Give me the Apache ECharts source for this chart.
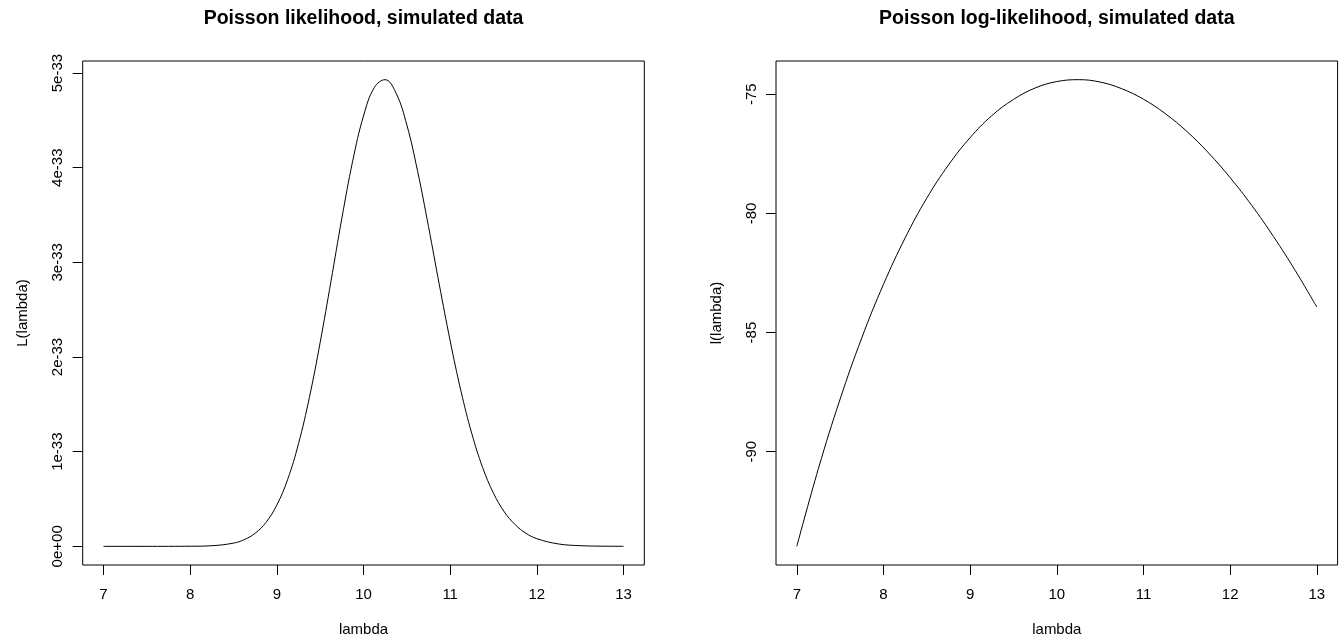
<!DOCTYPE html>
<html>
<head>
<meta charset="utf-8">
<title>Poisson likelihood</title>
<script src="https://cdn.jsdelivr.net/npm/echarts@6/dist/echarts.min.js"></script>
<style>
  html, body { margin: 0; padding: 0; background: #fff; }
  #chart { width: 1340px; height: 644px; }
</style>
</head>
<body>
<div id="chart"></div>
<script>
// lambda grid for the likelihood curve (denser around the peak)
const lambdaL = [7, 7.25, 7.5, 7.75, 8, 8.25, 8.5, 8.625, 8.75, 8.875, 9, 9.125, 9.25, 9.375, 9.5,
  9.625, 9.75, 9.875, 10, 10.125, 10.25, 10.375, 10.5, 10.625, 10.75, 10.875, 11, 11.125, 11.25,
  11.375, 11.5, 11.625, 11.75, 11.875, 12, 12.25, 12.5, 12.75, 13]
// L(lambda) in units of 1e-33
const likelihoodE33 = [0, 0, 0, 0.0001, 0.0009, 0.0065, 0.034, 0.071, 0.138, 0.253, 0.436, 0.707,
  1.084, 1.57, 2.154, 2.802, 3.464, 4.069, 4.546, 4.847, 4.93, 4.789, 4.452, 3.96, 3.378, 2.763,
  2.171, 1.639, 1.19, 0.832, 0.561, 0.364, 0.229, 0.138, 0.081, 0.025, 0.007, 0.0017, 0.0004]

// lambda grid for the log-likelihood curve
const lambdaLL = [7, 7.25, 7.5, 7.75, 8, 8.25, 8.5, 8.75, 9, 9.25, 9.5, 9.75, 10, 10.25, 10.5,
  10.75, 11, 11.25, 11.5, 11.75, 12, 12.25, 12.5, 12.75, 13]
const logLik = [-93.97, -90.7, -87.79, -85.22, -82.98, -81.03, -79.36, -77.97, -76.82, -75.9,
  -75.22, -74.74, -74.47, -74.39, -74.49, -74.77, -75.21, -75.81, -76.56, -77.46, -78.5,
  -79.67, -80.97, -82.39, -83.93]

// tick values and labels
const xTicks = [7, 8, 9, 10, 11, 12, 13]
const yTicksL = [0, 1, 2, 3, 4, 5]
const yTickLabelsL = ['0e+00', '1e-33', '2e-33', '3e-33', '4e-33', '5e-33']
const yTicksLL = [-90, -85, -80, -75]

const titles = ['Poisson likelihood, simulated data', 'Poisson log-likelihood, simulated data']
const yNames = ['L(lambda)', 'l(lambda)']

// R style axis range: data range widened by 4% on each side
function rRange(vals) {
  const lo = Math.min(...vals), hi = Math.max(...vals)
  const pad = (hi - lo) * 0.04
  return [lo - pad, hi + pad]
}

const FONT = 'Liberation Sans, Arial, Helvetica, sans-serif'
const boxW = 561.6, boxH = 504, boxTop = 61
const lefts = [82.7, 776]

const xr = rRange(xTicks)
const yrL = rRange([0].concat(likelihoodE33))
const yrLL = rRange(logLik)

function xAxisOf(i) {
  return {
    type: 'value', gridIndex: i, min: xr[0], max: xr[1],
    axisLine: { show: false, onZero: false },
    splitLine: { show: false },
    axisTick: { show: true, customValues: xTicks, length: 10, lineStyle: { color: '#000' } },
    axisLabel: { customValues: xTicks, margin: 22, color: '#000', fontSize: 15, fontFamily: FONT },
    name: 'lambda', nameLocation: 'middle', nameGap: 57,
    nameTextStyle: { color: '#000', fontSize: 15, fontFamily: FONT }
  }
}

function yAxisOf(i, range, ticks, fmt) {
  return {
    type: 'value', gridIndex: i, min: range[0], max: range[1],
    axisLine: { show: false, onZero: false },
    splitLine: { show: false },
    axisTick: { show: true, customValues: ticks, length: 10, lineStyle: { color: '#000' } },
    axisLabel: {
      customValues: ticks, rotate: 90, margin: 17, color: '#000',
      fontSize: 15, fontFamily: FONT, formatter: fmt
    },
    name: yNames[i], nameLocation: 'middle', nameGap: 52, nameRotate: 90,
    nameTextStyle: { color: '#000', fontSize: 15, fontFamily: FONT }
  }
}

const chart = echarts.init(document.getElementById('chart'), null, { renderer: 'canvas' })

chart.setOption({
  animation: false,
  backgroundColor: '#fff',
  grid: lefts.map(l => ({
    left: l, top: boxTop, width: boxW, height: boxH,
    show: true, borderColor: '#000', borderWidth: 1, backgroundColor: 'transparent'
  })),
  xAxis: [xAxisOf(0), xAxisOf(1)],
  yAxis: [
    yAxisOf(0, yrL, yTicksL, v => {
      const k = yTicksL.findIndex(t => Math.abs(t - v) < 1e-9)
      return k >= 0 ? yTickLabelsL[k] : ''
    }),
    yAxisOf(1, yrLL, yTicksLL, v => String(Math.round(v)))
  ],
  graphic: titles.map((t, i) => ({
    type: 'text', x: lefts[i] + boxW / 2, y: 19,
    style: {
      text: t, fill: '#000', align: 'center', verticalAlign: 'middle',
      font: 'bold 19.5px ' + FONT
    }
  })),
  series: [
    {
      type: 'line', xAxisIndex: 0, yAxisIndex: 0,
      data: lambdaL.map((x, k) => [x, likelihoodE33[k]]),
      showSymbol: false, smooth: 0.4,
      lineStyle: { color: '#000', width: 1 }
    },
    {
      type: 'line', xAxisIndex: 1, yAxisIndex: 1,
      data: lambdaLL.map((x, k) => [x, logLik[k]]),
      showSymbol: false, smooth: 0.4,
      lineStyle: { color: '#000', width: 1 }
    }
  ]
})
</script>
</body>
</html>
